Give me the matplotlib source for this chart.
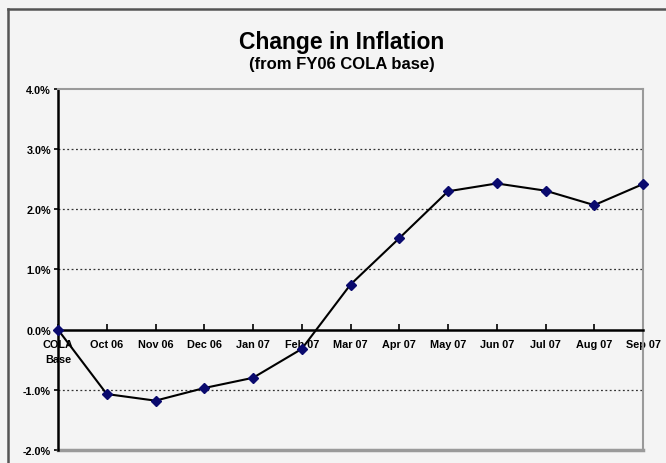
import matplotlib
matplotlib.use("Agg")
import matplotlib.pyplot as plt
from matplotlib.lines import Line2D
from matplotlib.ticker import FuncFormatter

plt.rcParams['font.family'] = ['Liberation Sans', 'DejaVu Sans']

# data (percent change from FY06 COLA base)
months = ['COLA\nBase', 'Oct 06', 'Nov 06', 'Dec 06', 'Jan 07', 'Feb 07', 'Mar 07',
          'Apr 07', 'May 07', 'Jun 07', 'Jul 07', 'Aug 07', 'Sep 07']
change = [0.0, -1.07, -1.18, -0.97, -0.80, -0.32, 0.75,
          1.52, 2.30, 2.43, 2.31, 2.07, 2.42]
y_ticks = [-2.0, -1.0, 0.0, 1.0, 2.0, 3.0, 4.0]

W, H = 666, 464
bg = '#f4f4f4'
fig = plt.figure(figsize=(W / 100, H / 100), dpi=100, facecolor=bg)

# outer chart frame (left and top edges visible)
fig.add_artist(Line2D([8 / W, 8 / W], [0, 1 - 10 / H], transform=fig.transFigure,
                      color='#555555', lw=1.8))
fig.add_artist(Line2D([8 / W, 1], [1 - 10 / H, 1 - 10 / H], transform=fig.transFigure,
                      color='#555555', lw=1.8))

left, right, top, bottom = 58, 643, 90, 451
ax = fig.add_axes([left / W, 1 - bottom / H, (right - left) / W, (bottom - top) / H])
ax.set_facecolor(bg)

x = list(range(len(months)))
ax.set_xlim(0, len(months) - 1)
ax.set_ylim(y_ticks[0], y_ticks[-1])

# dotted gridlines (inner ticks only)
for yv in y_ticks[1:-1]:
    if yv != 0:
        ax.axhline(yv, color='#333333', lw=0.9, ls=(0, (1.5, 2)), zorder=1)

ax.plot(x, change, color='black', lw=1.5, zorder=3,
        marker='D', markersize=5.5, markerfacecolor='#0a0a6e',
        markeredgecolor='#0a0a6e', clip_on=False)

# plot area border: gray top/right/bottom, black left axis
for side in ['top', 'right']:
    ax.spines[side].set_color('#9a9a9a')
    ax.spines[side].set_linewidth(1.5)
ax.spines['left'].set_color('black')
ax.spines['left'].set_linewidth(1.8)
ax.spines['bottom'].set_position(('data', 0))
ax.spines['bottom'].set_color('black')
ax.spines['bottom'].set_linewidth(1.8)
ax.axhline(y_ticks[0], color='#9a9a9a', lw=2.5, zorder=2, clip_on=False)

ax.set_yticks(y_ticks)
ax.yaxis.set_major_formatter(FuncFormatter(lambda v, p: f'{v:.1f}%'))
ax.tick_params(axis='y', direction='out', length=3, width=1.2, pad=2,
               labelsize=7.8)
ax.set_xticks(x)
ax.set_xticklabels(months, fontsize=7.8, fontweight='bold', linespacing=1.55,
                   va='top')
ax.tick_params(axis='x', direction='in', length=4, width=1.2, pad=7)
for lbl in ax.get_yticklabels():
    lbl.set_fontweight('bold')

fig.text(0.513, 1 - 42 / H, 'Change in Inflation',
         ha='center', va='center', fontsize=16.5, fontweight='bold')
fig.text(0.513, 1 - 64 / H, '(from FY06 COLA base)',
         ha='center', va='center', fontsize=12, fontweight='bold')

fig.savefig('out.png', dpi=100, facecolor=bg)
